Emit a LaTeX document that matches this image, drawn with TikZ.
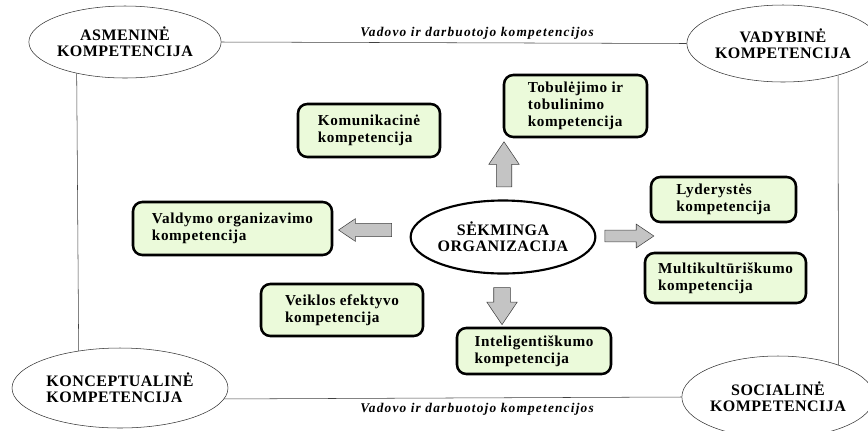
\documentclass[tikz,border=0pt]{standalone}
\usepackage{fontspec}
\setmainfont{Liberation Serif}
\usetikzlibrary{shapes,arrows,positioning}
\definecolor{zalia}{HTML}{EBFADA}
\definecolor{pilka}{HTML}{C4C4C4}
\tikzstyle{kompetencija} = [draw=black, fill=zalia, line width=1.9pt, rectangle, rounded corners=7pt, align=left, inner sep=0pt, font=\bfseries\fontsize{11.4}{12.75}\selectfont\addfontfeature{LetterSpace=4}]
\tikzstyle{elipse} = [draw=black!80, fill=white, ellipse, thin, inner sep=0pt, align=center, font=\bfseries\fontsize{12}{12}\selectfont\addfontfeature{LetterSpace=3}]
\tikzstyle{centras} = [elipse, line width=1.6pt, draw=black]
\tikzstyle{rodykle} = [single arrow, draw=black!75, fill=pilka, thin, single arrow tip angle=68]
\tikzstyle{uzrasas} = [font=\bfseries\itshape\fontsize{10}{11}\selectfont\addfontfeature{LetterSpace=9}]

\begin{document}
\begin{tikzpicture}[x=0.75pt, y=-0.75pt]
\useasboundingbox (0,0) rectangle (868,430);
\clip (0,0) rectangle (868,430);
% kampines kompetencijos
\node[elipse, minimum width=126pt, minimum height=54pt] (asm) at (125,42) {ASMENINĖ\\KOMPETENCIJA};
\node[elipse, minimum width=142.5pt, minimum height=57.75pt] (vad) at (783,43.5) {VADYBINĖ\\KOMPETENCIJA};
\node[elipse, minimum width=162pt, minimum height=60pt, align=left] (kon) at (120,388) {KONCEPTUALINĖ\\KOMPETENCIJA};
\node[elipse, minimum width=141pt, minimum height=61.5pt] (soc) at (778,397) {SOCIALINĖ\\KOMPETENCIJA};

\draw[thin, black!75] (asm.east) -- (vad.west);
\draw[thin, black!75] (kon.354) -- (soc.west);
\draw[thin, black!75] (asm.213) -- (kon.138);
\draw[thin, black!75] (vad.330) -- (soc.28);
\node[uzrasas] (virsus) at (477,33) {Vadovo ir darbuotojo kompetencijos};
\node[uzrasas] (apacia) at (477,409) {Vadovo ir darbuotojo kompetencijos};

% centras
\node[centras, minimum width=135pt, minimum height=54.75pt] (sek) at (503,237) {SĖKMINGA\\ORGANIZACIJA};

% rodykles
\node[rodykle, rotate=90, inner sep=5.6pt, single arrow head extend=5.6pt, minimum height=33.75pt] (rVirsus) at (504,170) {};
\node[rodykle, rotate=270, inner sep=6pt, single arrow head extend=5.2pt, minimum height=27.75pt] (rApacia) at (502,300) {};
\node[rodykle, rotate=180, inner sep=4.8pt, single arrow head extend=3.5pt, minimum height=39.75pt] (rKaire) at (370,230) {};
\node[rodykle, inner sep=4.2pt, single arrow head extend=4.5pt, minimum height=36.75pt] (rDesine) at (625,236) {};

% kompetenciju dezutes
\node[kompetencija, minimum width=106.5pt, minimum height=39.75pt] (kom) at (369,130.5) {Komunikacinė\\kompetencija};
\node[kompetencija, minimum width=107.25pt, minimum height=46.5pt] (tob) at (575.5,106) {Tobulėjimo ir\\tobulinimo\\kompetencija};
\node[kompetencija, minimum width=108.75pt, minimum height=33.75pt] (lyd) at (723.5,199.5) {Lyderystės\\kompetencija};
\node[kompetencija, minimum width=149.25pt, minimum height=39.75pt] (val) at (232.5,228.5) {Valdymo organizavimo\\kompetencija};
\node[kompetencija, minimum width=121.5pt, minimum height=39pt] (vei) at (342,310) {Veiklos efektyvo\\kompetencija};
\node[kompetencija, minimum width=115.5pt, minimum height=34.5pt] (int) at (534,351) {Inteligentiškumo\\kompetencija};
\node[kompetencija, minimum width=120.75pt, minimum height=37.5pt] (mul) at (725.5,278) {Multikultūriškumo\\kompetencija};
\end{tikzpicture}
\end{document}
